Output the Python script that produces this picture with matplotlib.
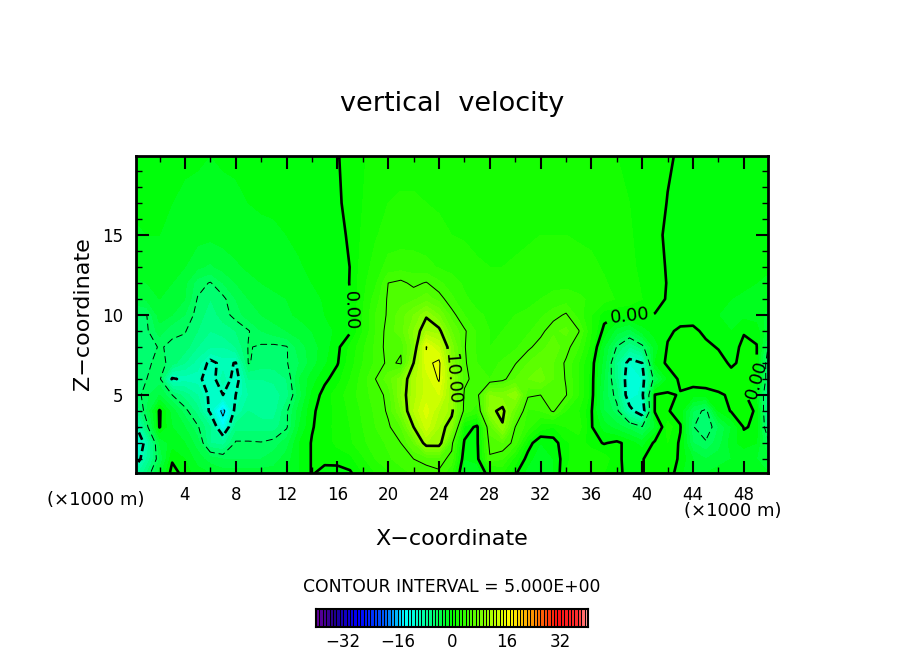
import numpy as np
import matplotlib
matplotlib.use("Agg")
import matplotlib.pyplot as plt
from matplotlib.colors import LinearSegmentedColormap, BoundaryNorm

# grid (x in km, z in km), each row is 0..50 km, 10 values per line
x_km = np.arange(0, 51, 1)
z_km = [0.1, 1, 2, 3, 4, 5, 6, 7, 8, 9, 10, 11, 12, 13, 15, 17, 20]

w_z01 = [-9, -6, -2.5, 0.6, -0.5, -1.5, -2, -2.5, -2.5, -2.5,
         -2.5, -2.5, -2, -1, 0.1, -0.4, -0.6, -0.2, 1, 2,
         2.8, 3.5, 4.2, 4.6, 4.8, 3, -2, -2, 1, 2,
         0.2, -1.5, -2, -1, 1, 1.5, 1.5, 1, 0.4, -0.5,
         -0.1, 0.8, 0.8, -0.8, -2, -2, -1.5, -1.5, -1.5, -1.5, -2]
w_z1 = [-12, -8, -4, -0.2, -1, -2.5, -3.5, -4, -4, -4,
        -4, -3.5, -2.5, -1, 0.1, 0.3, 0.5, 0.7, 1.8, 3,
        3.8, 4.5, 5, 5.3, 5.5, 4.6, -1, -0.5, 4.8, 4,
        1.5, -0.5, -2, -1, 0.8, 1.5, 2, 1.5, 0.3, -0.5,
        -0.1, 0.8, 1, -0.3, -2, -3, -2.5, -2, -2, -2, -3]
w_z2 = [-13, -9, -3, -1.5, -2, -3.5, -7, -7.5, -4.8, -4.8,
        -4.9, -4.5, -3.5, -1, 0.1, 0.6, 1.2, 1.8, 2.8, 3.5,
        4.2, 5, 7, 11, 11, 5.4, -0.2, -0.3, 5.5, 6,
        4.5, 0.6, -1, -0.5, 0.8, 1.5, 0.5, -0.1, 0.3, -0.5,
        -1.5, 0.3, 1, -0.2, -4, -4.8, -3.5, -1.5, -0.5, -1, -5]
w_z3 = [-11, -5.5, 0.1, -2, -3, -4.8, -7, -13, -6.5, -6.5,
        -6.5, -6.5, -5.2, -2, -0.1, 0.6, 1.3, 2, 3, 4,
        4.8, 6, 10, 13.5, 11, 9, 0.8, -0.3, 6.5, 9.8,
        5, 3.5, 1.5, 1, 2, 2.5, 0.1, -1.5, -2.5, -3.5,
        -4.8, -2, 1.5, 0.1, -4.9, -6, -4, -2, 0.1, -0.2, -8]
w_z4 = [-8, -4, 0.2, -2.5, -4.5, -6.5, -10.5, -16, -9, -7,
        -7.5, -7.5, -5.2, -2.5, -0.2, 0.5, 1.3, 2.2, 3.2, 4.2,
        5.2, 8, 12, 14.5, 12, 10.5, 4.5, 3.5, 9.5, 10.5,
        7, 3.8, 4, 5.2, 3, 2, 0.1, -3, -4.5, -9,
        -12, 0.2, 0.1, -0.5, -4, -5.5, -1, 0.1, 0.3, -0.1, -9]
w_z5 = [-6, -4.2, -3, -5, -6.5, -8, -10.5, -10, -10, -8,
        -8, -7.5, -6.5, -3.5, -0.8, 0.5, 1.5, 2.5, 3.5, 4.5,
        5.3, 9, 11.5, 13.5, 14, 10, 4.8, 4.5, 9, 8.5,
        9.8, 5.2, 5, 5.5, 5.1, 3, 0.5, -3.5, -5.5, -12,
        -10.5, 0.1, 0.2, -0.1, -0.6, -0.6, -0.2, 0.2, 0.3, -1.5, -8]
w_z6 = [-6, -5, -4.6, -10.3, -9.5, -9.5, -11, -8.5, -11, -7,
        -7, -6.8, -6, -3, -1.5, -0.3, 0.6, 2, 3.5, 5,
        6.5, 8.5, 11.5, 13.5, 15.2, 10.2, 5.3, 4.5, 4, 4.6,
        6, 7, 7.5, 6, 4.9, 3, 0.5, -3, -6.5, -12,
        -11, -4, -1, 0.3, 0.6, 0.8, 0.8, 0.5, 0.8, 0.2, -7]
w_z7 = [-6, -5.3, -4.5, -5.5, -7, -8.5, -10.5, -9.5, -10.1, -4.9,
        -5.5, -5.5, -5.1, -4, -2.5, -1.2, -0.1, 1.5, 3, 4.2,
        5.3, 4.8, 10, 14.5, 15.5, 9, 5.2, 4, 3.5, 4.2,
        4.9, 6, 6.8, 6, 4.8, 3, 0.6, -2.5, -7, -11,
        -10, -1, 0.3, 0.8, 1, 1, 0.5, -0.2, 0.3, 0.1, -7]
w_z8 = [-6, -5.5, -4.9, -5.2, -5.5, -7, -8, -8, -7, -4.9,
        -5.2, -5.3, -5.1, -3.5, -2.5, -1.5, -0.3, 1.2, 2.8, 4.2,
        5.5, 5.2, 8.5, 15.1, 13, 8.5, 5.1, 3.8, 3, 3.2,
        3.8, 4.7, 5.6, 6.5, 5.5, 4, 1.5, -2, -5.1, -7,
        -5.5, -1.5, 0.1, 0.5, 0.8, 0.3, -0.1, -0.5, 0.3, 0.1, -5.5]
w_z9 = [-6, -5.2, -3.5, -4.8, -4.9, -6, -7, -6.5, -6, -5.1,
        -4, -3.5, -3, -2.5, -2, -1.4, -0.8, -0.2, 2, 4,
        5.5, 6.5, 9, 11, 10.5, 7, 5.2, 3.8, 3, 3,
        3.2, 3.8, 4.6, 5.8, 6.2, 5.1, 2, -0.4, -2.5, -3.5,
        -1.5, -0.6, -0.2, 0.2, 0.3, -0.3, -0.8, -1, -0.1, -0.5, -3]
w_z10 = [-5, -5, -2.5, -3, -4, -5.5, -6.5, -5.6, -4.5, -3.5,
         -3, -2.5, -2.2, -1.8, -1.5, -1, -0.5, -0.05, 2, 4,
         5.2, 6.5, 8, 9.8, 8, 5.5, 4, 3.2, 2.8, 2.8,
         3, 3.2, 3.8, 4.5, 5.2, 3.5, 2, 0.5, 0.15, 0.15,
         0.15, -0.05, -0.3, -0.5, -0.6, -0.8, -1, -1.2, -1.3, -1.5, -2.5]
w_z11 = [-3.5, -2.8, -2, -2.5, -3, -5.1, -6, -5.3, -4, -3,
         -2.5, -2.2, -2, -1.6, -1.3, -0.9, -0.5, -0.02, 1.8, 3.5,
         5.2, 5.5, 5.8, 6.5, 5.6, 4.2, 3.2, 2.6, 2.4, 2.4,
         2.5, 2.7, 3, 3.3, 3.5, 3.2, 2.8, 2.4, 1.9, 1.5,
         1, 0.4, -0.1, -0.4, -0.6, -0.8, -0.9, -1, -1.1, -1.3, -1.6]
w_z12 = [-2.2, -2, -1.7, -2, -2.8, -4.5, -5.1, -4, -3, -2.4,
         -2, -1.8, -1.6, -1.3, -1, -0.7, -0.4, 0.03, 1.7, 2.8,
         5, 5.3, 4.7, 5.1, 4.2, 3.5, 2.8, 2.4, 2.2, 2.2,
         2.3, 2.5, 2.6, 2.7, 2.7, 2.6, 2.4, 2.1, 1.7, 1.3,
         0.9, 0.4, -0.05, -0.4, -0.5, -0.7, -0.8, -0.9, -0.9, -1, -1.2]
w_z13 = [-1.6, -1.5, -1.3, -1.6, -2, -2.8, -3.2, -2.6, -2.2, -1.8,
         -1.6, -1.4, -1.3, -1.1, -0.8, -0.6, -0.3, 0.01, 1.5, 2.4,
         3.4, 3.6, 3.5, 3.3, 2.9, 2.6, 2.4, 2.1, 2, 2,
         2.1, 2.2, 2.3, 2.4, 2.4, 2.3, 2.2, 1.9, 1.6, 1.2,
         0.8, 0.4, -0.1, -0.3, -0.4, -0.6, -0.7, -0.7, -0.8, -0.8, -0.9]
w_z15 = [-1.1, -1, -1, -1.2, -1.4, -1.6, -1.7, -1.6, -1.4, -1.3,
         -1.2, -1.1, -1, -0.8, -0.6, -0.4, -0.2, 0.1, 1.2, 1.9,
         2.4, 2.5, 2.5, 2.4, 2.2, 2, 1.9, 1.8, 1.7, 1.7,
         1.8, 1.9, 2, 2, 2, 1.9, 1.8, 1.6, 1.4, 1.1,
         0.7, 0.3, -0.2, -0.3, -0.4, -0.5, -0.5, -0.6, -0.6, -0.6, -0.6]
w_z17 = [-0.9, -0.9, -0.9, -1, -1.1, -1.2, -1.2, -1.2, -1.1, -1,
         -0.9, -0.9, -0.8, -0.7, -0.5, -0.3, -0.1, 0.2, 1, 1.6,
         2, 2.1, 2.1, 2, 1.9, 1.7, 1.6, 1.5, 1.5, 1.5,
         1.6, 1.7, 1.8, 1.8, 1.8, 1.7, 1.5, 1.4, 1.2, 1,
         0.6, 0.3, -0.03, -0.15, -0.25, -0.3, -0.4, -0.4, -0.5, -0.5, -0.5]
w_z20 = [-0.7, -0.7, -0.7, -0.8, -0.9, -0.9, -1, -0.9, -0.9, -0.8,
         -0.8, -0.7, -0.6, -0.5, -0.4, -0.3, -0.05, 0.3, 0.9, 1.3,
         1.6, 1.7, 1.7, 1.6, 1.5, 1.4, 1.4, 1.3, 1.3, 1.3,
         1.4, 1.5, 1.5, 1.5, 1.5, 1.4, 1.3, 1.2, 1, 0.8,
         0.5, 0.3, 0.1, -0.1, -0.2, -0.3, -0.3, -0.4, -0.4, -0.4, -0.4]

w_rows = [w_z01, w_z1, w_z2, w_z3, w_z4, w_z5, w_z6, w_z7, w_z8, w_z9, w_z10,
          w_z11, w_z12, w_z13, w_z15, w_z17, w_z20]

thin_levels = [-15, -5, 5, 15]
thick_levels = [-10, 0, 10]
bar_ticks = [-32, -16, 0, 16, 32]
x_ticks = list(range(4, 49, 4))
z_ticks = [5, 10, 15]

W = 904
H = 654

# rainbow as seen in the strip under the plot
cmap = LinearSegmentedColormap.from_list("ncar", [
    (0.0, "#60009a"), (0.06, "#20008c"), (0.15, "#0000ff"), (0.25, "#0060ff"),
    (0.325, "#00ffff"), (0.41, "#00ff90"), (0.5, "#00ff00"), (0.6, "#70ff00"),
    (0.71, "#ffff00"), (0.8, "#ff9000"), (0.89, "#ff1010"), (0.97, "#ff3030"),
    (1.0, "#ff9a9a"),
], N=80)
fill_levels = np.arange(-40, 41, 1)
norm = BoundaryNorm(fill_levels, cmap.N)

fig = plt.figure(figsize=(W / 100, H / 100), dpi=100, facecolor="white")


def axes_px(left, right, top, bottom):
    return fig.add_axes([left / W, 1 - bottom / H, (right - left) / W, (bottom - top) / H])


def line_styles(levels, dash):
    return [(0, dash) if lv < 0 else "-" for lv in levels]


ax = axes_px(136, 768, 156, 473)
w = np.array(w_rows)
ax.contourf(x_km, z_km, w, levels=fill_levels, cmap=cmap, norm=norm, antialiased=False)

ax.contour(x_km, z_km, w, levels=thin_levels, colors="black", linewidths=0.7,
           linestyles=line_styles(thin_levels, (7, 4)))
cs = ax.contour(x_km, z_km, w, levels=thick_levels, colors="black", linewidths=1.9,
                linestyles=line_styles(thick_levels, (3, 1.5)))

ax.set_xlim(0.15, 49.9)
ax.set_ylim(0.125, 19.94)
ax.clabel(cs, fmt="%.2f", fontsize=13, colors="black", inline=True,
          manual=[(17.0, 10.3), (39.0, 9.8), (25.3, 6.0), (48.9, 6.0)])
ax.set_xticks(x_ticks)
ax.set_xticks(np.arange(2, 50, 4), minor=True)
ax.set_yticks(z_ticks)
ax.set_yticks(np.arange(1, 20, 1), minor=True)
ax.tick_params(which="major", direction="in", length=9, width=1.5, top=True, right=True,
               labelsize=12, pad=9)
ax.tick_params(which="minor", direction="in", length=4, width=1, top=True, right=True)
for s in ax.spines.values():
    s.set_linewidth(2)

fig.text(452 / W, 1 - 104 / H, "vertical  velocity", ha="center", va="center", fontsize=19.5)
fig.text(452 / W, 1 - 539 / H, "X−coordinate", ha="center", va="center", fontsize=16)
fig.text(83 / W, 1 - 314 / H, "Z−coordinate", ha="center", va="center", fontsize=16, rotation=90)
fig.text(96 / W, 1 - 500 / H, "(×1000 m)", ha="center", va="center", fontsize=13)
fig.text(733 / W, 1 - 511 / H, "(×1000 m)", ha="center", va="center", fontsize=13)
fig.text(452 / W, 1 - 587 / H, "CONTOUR INTERVAL = 5.000E+00", ha="center", va="center", fontsize=12.4)

# colour strip with black gaps between the cells
cax = axes_px(316, 588, 609, 627)
cax.pcolormesh(fill_levels, [0, 1], np.array([fill_levels[:-1] + 0.5]), cmap=cmap, norm=norm,
               edgecolors="black", linewidth=0.55)
cax.set_yticks([])
cax.set_xticks(bar_ticks)
cax.tick_params(length=0, labelsize=12, pad=4)
for s in cax.spines.values():
    s.set_linewidth(1.5)

fig.savefig("out.png", dpi=100, facecolor="white")
